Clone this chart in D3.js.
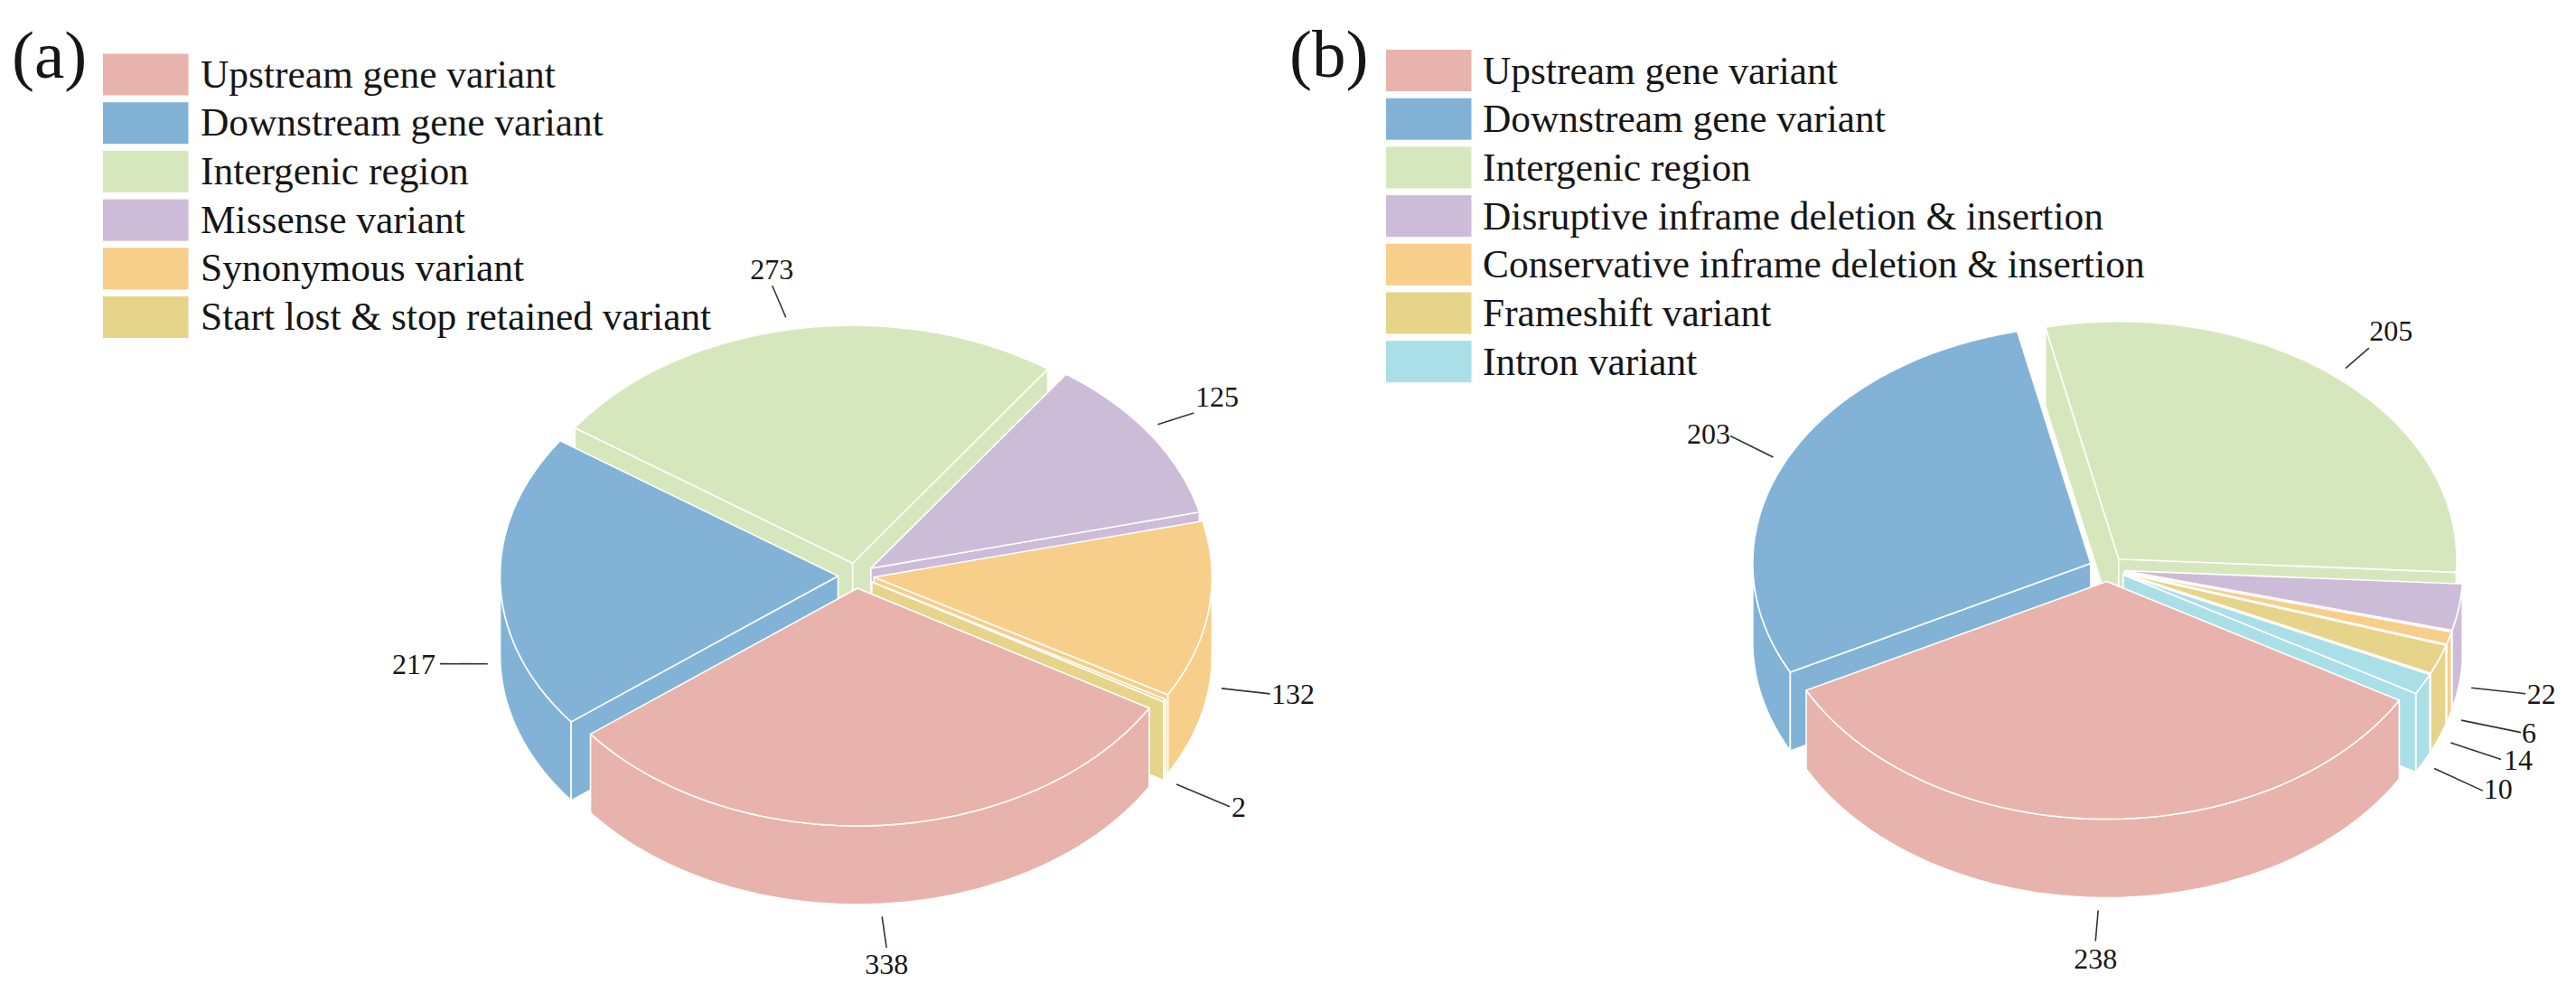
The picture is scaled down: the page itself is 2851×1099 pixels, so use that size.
<!DOCTYPE html>
<html>
<head>
<meta charset="utf-8">
<script src="https://cdn.jsdelivr.net/npm/d3@7"></script>
<style>
html,body{margin:0;padding:0;background:#fff;}
svg{display:block;}
text{font-family:"Liberation Serif","Times New Roman",serif;fill:#161616;}
</style>
</head>
<body>
<svg id="chart" width="2851" height="1099" viewBox="0 0 2851 1099"></svg>
<script>
// ---- data ----
const categoriesA = ["Upstream gene variant","Downstream gene variant","Intergenic region","Missense variant","Synonymous variant","Start lost & stop retained variant"];
const valuesA = [338,217,273,125,132,2];
const coloursA = ["#E8B3AC","#82B3D7","#D7E7BD","#CDBCD8","#F8CE8B","#E6D48A"];

const categoriesB = ["Upstream gene variant","Downstream gene variant","Intergenic region","Disruptive inframe deletion & insertion","Conservative inframe deletion & insertion","Frameshift variant","Intron variant"];
const valuesB = [238,203,205,22,6,14,10];
const coloursB = ["#E8B3AC","#82B3D7","#D7E7BD","#CDBCD8","#F8CE8B","#E6D48A","#ABDFE8"];

// ---- layout ----
const RX = 374, RY = 263, DEPTH = 87, EXPLODE = 20, GAP = 14;
const START = 120 * Math.PI / 180;

// leader vector from the slice edge, then label centre relative to leader end
const leadersA = [[5,34.5],[-52.8,-0.2],[-15,-35],[40,-12.8],[53.6,6],[59,24.7]];
const labelOffA = [[0,18],[-29,0.5],[-0.6,-18],[25.6,-18.4],[25.4,0],[10,0]];
const leadersB = [[-3,34],[-47.5,-23.5],[26,-22.4],[60,6.4],[66,13.5],[55.8,18.6],[53.6,24.6]];
const labelOffB = [[0,19.4],[-24,-2.5],[24.4,-19.6],[17.7,0],[9,0.3],[19,0],[17,-2]];

const panels = [
  {tag:"(a)", tagX:13, tagY:86, swX:114, swY:59.5, txtX:222, baseY:96.5, twist:0.02,
   cx:947.5, cy:637, cats:categoriesA, vals:valuesA, cols:coloursA, leaders:leadersA, offs:labelOffA},
  {tag:"(b)", tagX:1427, tagY:85, swX:1534, swY:55, txtX:1641, baseY:92.5, twist:0,
   cx:2332, cy:629.5, cats:categoriesB, vals:valuesB, cols:coloursB, leaders:leadersB, offs:labelOffB}
];

const svg = d3.select("#chart");
const line = d3.line();
const STROKE = "#ffffff", SW = 1.6;

function drawPie(g, p) {
  const arcs = d3.pie().sort(null).startAngle(START).endAngle(START + 2*Math.PI)(p.vals);
  const items = arcs.map((a,i) => {
    const mid = (a.startAngle + a.endAngle) / 2;
    const cx = p.cx + EXPLODE * Math.sin(mid);
    const cy = p.cy - EXPLODE * (RY/RX) * Math.cos(mid);
    const pt = t0 => {
      const t = t0 + p.twist * (1 + Math.cos(t0)) / 2;
      return [cx + RX*Math.sin(t), cy - RY*Math.cos(t)];
    };
    return {a, i, mid, cx, cy, pt};
  });
  const ordered = items.slice().sort((u,v) => Math.cos(v.mid) - Math.cos(u.mid));
  const down = q => [q[0], q[1] + DEPTH];
  const sample = (t0,t1) => d3.range(0, 61).map(k => t0 + (t1-t0)*k/60);

  ordered.forEach(s => {
    const col = p.cols[s.i];
    const grp = g.append("g");
    const shape = d => grp.append("path").attr("d", d).attr("fill", col)
      .attr("stroke", STROKE).attr("stroke-width", SW).attr("stroke-linejoin","round");
    const apex = [s.cx, s.cy];
    const t0 = s.a.startAngle, t1 = s.a.endAngle;
    // outer wall: only the arc part facing the viewer
    const lo = Math.PI/2, hi = 3*Math.PI/2;
    [[t0,t1],[t0-2*Math.PI,t1-2*Math.PI]].forEach(([x0,x1]) => {
      const w0 = Math.max(x0,lo), w1 = Math.min(x1,hi);
      if (w1 > w0) {
        const top = sample(w0,w1).map(s.pt);
        shape(line(top.concat(top.slice().reverse().map(down))) + "Z");
      }
    });
    // radial walls, visible ones only
    if (Math.sin(t0) < 0) shape(line([apex, s.pt(t0), down(s.pt(t0)), down(apex)]) + "Z");
    if (Math.sin(t1) > 0) shape(line([apex, s.pt(t1), down(s.pt(t1)), down(apex)]) + "Z");
    // top face
    shape(line([apex].concat(sample(t0,t1).map(s.pt))) + "Z");
  });

  // leaders + labels
  items.forEach(s => {
    const sx = s.cx + (RX+GAP)*Math.sin(s.mid);
    const below = Math.cos(s.mid) < 0;
    const sy = s.cy - (RY+GAP)*Math.cos(s.mid) + (below ? DEPTH : 0);
    const v = p.leaders[s.i], o = p.offs[s.i];
    const ex = sx + v[0], ey = sy + v[1];
    g.append("line").attr("x1",sx).attr("y1",sy).attr("x2",ex).attr("y2",ey)
      .attr("stroke","#333").attr("stroke-width",1.6);
    g.append("text").attr("x",ex+o[0]).attr("y",ey+o[1]).attr("text-anchor","middle")
      .attr("dominant-baseline","central").attr("font-size",32).text(p.vals[s.i]);
  });
}

panels.forEach(p => {
  const g = svg.append("g");
  drawPie(g, p);
  g.append("text").attr("x",p.tagX).attr("y",p.tagY).attr("font-size",75).text(p.tag);
  const yBand = d3.scaleLinear().domain([0,1]).range([0,53.7]);
  p.cats.forEach((c,i) => {
    g.append("rect").attr("x",p.swX).attr("y",p.swY+yBand(i)).attr("width",94.5).attr("height",46).attr("fill",p.cols[i]);
    g.append("text").attr("x",p.txtX).attr("y",p.baseY+yBand(i)).attr("font-size",43.4).text(c);
  });
});
</script>
</body>
</html>
